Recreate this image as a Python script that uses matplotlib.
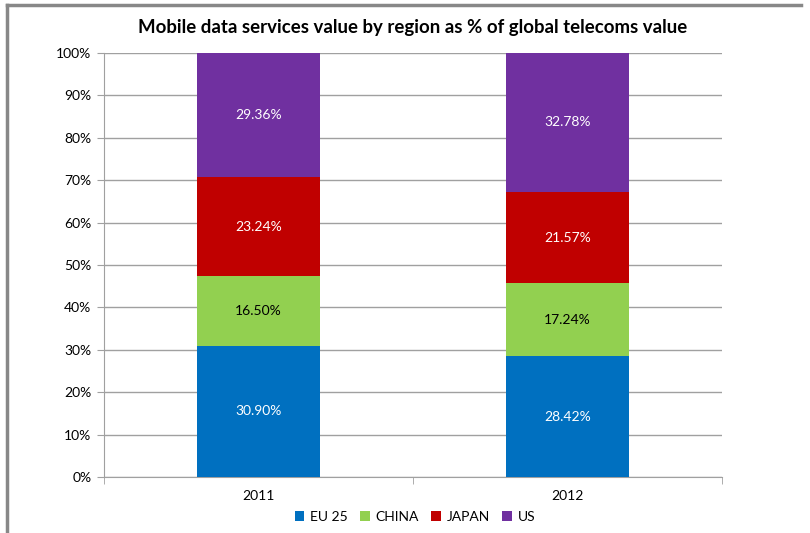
import matplotlib.pyplot as plt
from matplotlib.lines import Line2D
import numpy as np

plt.rcParams['font.family'] = ['Lato', 'DejaVu Sans']

years = ['2011', '2012']
regions = ['EU 25', 'CHINA', 'JAPAN', 'US']
eu25 = [30.90, 28.42]
china = [16.50, 17.24]
japan = [23.24, 21.57]
us = [29.36, 32.78]

colors = ['#0070C0', '#92D050', '#C00000', '#7030A0']
label_colors = ['white', 'black', 'white', 'white']

W, H = 810, 533
fig = plt.figure(figsize=(W / 100, H / 100), dpi=100)
ax = fig.add_axes([104 / W, 1 - 477 / H, (722 - 104) / W, (477 - 53) / H])

x = np.arange(len(years))
bottom = np.zeros(len(years))
for name, vals, c, lc in zip(regions, [eu25, china, japan, us], colors, label_colors):
    vals = np.array(vals)
    ax.bar(x, vals, 0.4, bottom=bottom, color=c, label=name, zorder=3)
    for xi, b, v in zip(x, bottom, vals):
        ax.text(xi, b + v / 2, f'{v:.2f}%', ha='center', va='center',
                color=lc, fontsize=10, zorder=4)
    bottom += vals

ax.set_xlim(-0.5, 1.5)
ax.set_ylim(0, 100)
ax.set_yticks(np.arange(0, 101, 10))
ax.set_yticklabels([f'{v}%' for v in range(0, 101, 10)], fontsize=10)
ax.set_xticks(x)
ax.set_xticklabels(years, fontsize=10)
ax.set_xticks([-0.5, 0.5, 1.5], minor=True)
ax.tick_params(axis='x', which='major', length=0, pad=9)
ax.tick_params(axis='x', which='minor', length=5, color='#a0a0a0')
ax.tick_params(axis='y', length=5, color='#a0a0a0', pad=4)
ax.yaxis.grid(True, color='#a0a0a0', linewidth=1, zorder=0)
for s in ['top', 'right']:
    ax.spines[s].set_visible(False)
for s in ['left', 'bottom']:
    ax.spines[s].set_color('#a0a0a0')

fig.text(413 / W, 1 - 28 / H, 'Mobile data services value by region as % of global telecoms value',
         ha='center', va='center', fontsize=13.4, fontweight='bold')

fig.legend(loc='center', bbox_to_anchor=(415 / W, 1 - 517 / H), ncol=4, frameon=False,
           fontsize=10, handlelength=0.7, handleheight=0.7, handletextpad=0.4,
           columnspacing=0.9)

# chart area border
fig.add_artist(Line2D([7 / W, 801 / W], [1 - 5 / H, 1 - 5 / H], color='#888888', lw=2.5))
fig.add_artist(Line2D([7 / W, 7 / W], [1 - 5 / H, 0], color='#888888', lw=2.5))

fig.savefig('out.png', dpi=100)
